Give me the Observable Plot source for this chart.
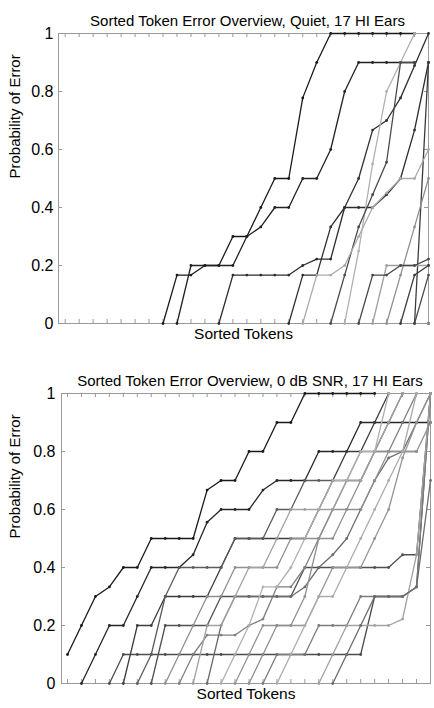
<!DOCTYPE html>
<html><head><meta charset="utf-8">
<script src="https://cdn.jsdelivr.net/npm/d3@7"></script>
<script src="https://cdn.jsdelivr.net/npm/@observablehq/plot@0.6"></script>
<style>
body{margin:0;background:#fff;font-family:"Liberation Sans",Arial,sans-serif;}
#c{width:434px;}
#c svg{display:block}
</style></head><body><div id="c"></div>
<script>
// ---- data ----
const tokens = [1,2,3,4,5,6,7,8,9,10,11,12,13,14,15,16,17,18,19,20,21,22,23,24,25,26,27];
const yTicks = [0, 0.2, 0.4, 0.6, 0.8, 1];
const quietTitle = "Sorted Token Error Overview, Quiet, 17 HI Ears";
const snrTitle = "Sorted Token Error Overview, 0 dB SNR, 17 HI Ears";

// first sorted-token index of each ear's curve (Quiet)
const quietStart = [8, 9, 12, 17, 21, 20, 26, 18, 24, 23, 22, 25, 26, 27, 27, 27, 27];
const quietErr = [
  [0,.167,.167,.2,.2,.3,.3,.4,.5,.5,.778,.9,1,1,1,1,1,1,1],
  [0,.2,.2,.2,.2,.3,.333,.4,.4,.5,.5,.6,.8,.9,.9,.9,.9,.9],
  [0,.167,.167,.167,.167,.167,.2,.222,.222,.4,.4,.4,.444,.5,.667,.9],
  [0,.167,.167,.333,.4,.5,.667,.7,.778,.889,1],
  [0,.25,.55,.8,.9,1],
  [0,.167,.333,.444,.556,.9,.9],
  [0,.9],
  [0,.167,.167,.2,.3,.4,.45,.5,.5,.6],
  [0,.167,.333,.5],
  [0,.2,.2,.2,.2],
  [0,.167,.167,.2,.2,.222],
  [0,.167,.2],
  [0,.167],
  [0],[0],[0],[0]
];

// first sorted-token index of each ear's curve (0 dB SNR)
const snrStart = [1, 2, 4, 5, 6, 7, 9, 8, 11, 13, 15, 19, 20, 10, 12, 14, 16];
const snrErr = [
  [.1,.2,.3,.333,.4,.4,.5,.5,.5,.5,.667,.7,.7,.8,.8,.9,.9,1,1,1,1,1,1],
  [0,.1,.2,.2,.3,.4,.4,.4,.444,.556,.6,.6,.6,.667,.7,.7,.7,.8,.8,.8,.9,.9,.9,.9,.9,.9],
  [0,.1,.1,.1,.1,.1,.1,.1,.1,.1,.1,.1,.1,.1,.1,.1,.1,.1,.1,.3,.3,.3,.333,1],
  [0,.2,.2,.3,.3,.3,.3,.4,.5,.5,.5,.5,.5,.5,.6,.7,.8,.8,.9,1],
  [0,.1,.3,.4,.4,.4,.4,.5,.5,.5,.6,.6,.7,.7,.7,.7,.7,.8,.9,1],
  [0,.2,.2,.2,.2,.3,.3,.3,.3,.3,.3,.4,.4,.4,.4,.4,.4,.4,.444,.444,1],
  [0,.1,.167,.167,.167,.2,.222,.333,.333,.4,.5,.6,.7,.8,.8,.8,.9,1],
  [0,.1,.2,.3,.3,.4,.4,.4,.4,.5,.5,.5,.6,.6,.7,.8,.8,.8,.8],
  [0,.2,.3,.3,.3,.3,.3,.333,.4,.444,.5,.6,.7,.778,.8,.9,1],
  [0,.1,.2,.2,.2,.2,.3,.4,.4,.4,.5,.6,.778,.9,1],
  [0,.1,.1,.1,.2,.2,.2,.3,.3,.3,.3,.333,1],
  [0,.1,.2,.2,.2,.2,.222,.444,1],
  [0,.1,.2,.3,.3,.3,.333,.7],
  [0,.2,.2,.3,.4,.4,.5,.6,.6,.6,.6,.7,.7,.8,.9,1],
  [0,.1,.2,.333,.333,.4,.5,.6,.7,.7,.8,.8,1],
  [0,.1,.2,.2,.3,.5,.5,.6,.6,.7,.8,.8,.8,.9],
  [0,.1,.2,.3,.3,.4,.5,.6,.7,.8,1]
];

// ---- styles ----
const quietShade = ["#1a1a1a","#222222","#2c2c2c","#303030","#b0b0b0","#4a4a4a","#3c3c3c","#aaaaaa","#909090","#a0a0a0","#484848","#3c3c3c","#4c4c4c","#888","#888","#888","#888"];
const snrShade = ["#1a1a1a","#262626","#4c4c4c","#3c3c3c","#5c5c5c","#505050","#808080","#909090","#6c6c6c","#949494","#7c7c7c","#a2a2a2","#6c6c6c","#a2a2a2","#b0b0b0","#909090","#acacac"];

function rows(starts, errs) {
  return errs.flatMap((vals, i) => vals.map((v, j) => ({ear: i, token: starts[i] + j, p: v})));
}

function panel(title, starts, errs, shades, o) {
  const data = rows(starts, errs);
  const pxPerX = (434 - o.ml - o.mr) / (27 - o.x0);
  const tx = 4 / pxPerX, ty = 4 / 290;
  const grid = "#999999";
  return Plot.plot({
    width: 434, height: o.h,
    marginTop: 33, marginBottom: o.mb, marginLeft: o.ml, marginRight: o.mr,
    x: {domain: [o.x0, 27], axis: null},
    y: {domain: [0, 1], axis: null},
    style: {fontFamily: "'Liberation Sans', Arial, sans-serif", fontSize: "16px", color: "#000", background: "#fff", overflow: "visible"},
    marks: [
      Plot.frame({stroke: grid}),
      Plot.ruleX(tokens, {x: d => d, y1: 0, y2: ty, stroke: grid}),
      Plot.ruleX(tokens, {x: d => d, y1: 1 - ty, y2: 1, stroke: grid}),
      Plot.ruleY(yTicks, {y: d => d, x1: o.x0, x2: o.x0 + tx, stroke: grid}),
      Plot.ruleY(yTicks, {y: d => d, x1: 27 - tx, x2: 27, stroke: grid}),
      Plot.axisY(yTicks, {tickSize: 0, tickPadding: o.pad, tickFormat: d => String(d), label: null, fontSize: 16}),
      Plot.line(data, {x: "token", y: "p", z: "ear", stroke: d => shades[d.ear], strokeWidth: 1.3}),
      Plot.dot(data, {x: "token", y: "p", r: 1.4, fill: d => shades[d.ear], stroke: null}),
      Plot.text([title], {frameAnchor: "top", dy: -18, dx: 4, fontSize: 15}),
      Plot.text(["Sorted Tokens"], {frameAnchor: "bottom", dy: 15, fontSize: 15.5}),
      Plot.text(["Probability of Error"], {frameAnchor: "left", dx: o.labelDx, rotate: -90, fontSize: 15})
    ]
  });
}

const c = document.getElementById("c");
c.append(panel(quietTitle, quietStart, quietErr, quietShade, {h: 360, mb: 37, ml: 58, mr: 6, x0: 0.52, pad: 5, labelDx: -43}));
c.append(panel(snrTitle, snrStart, snrErr, snrShade, {h: 348, mb: 25, ml: 61, mr: 4, x0: 0.57, pad: 6, labelDx: -46}));
</script>
</body></html>
